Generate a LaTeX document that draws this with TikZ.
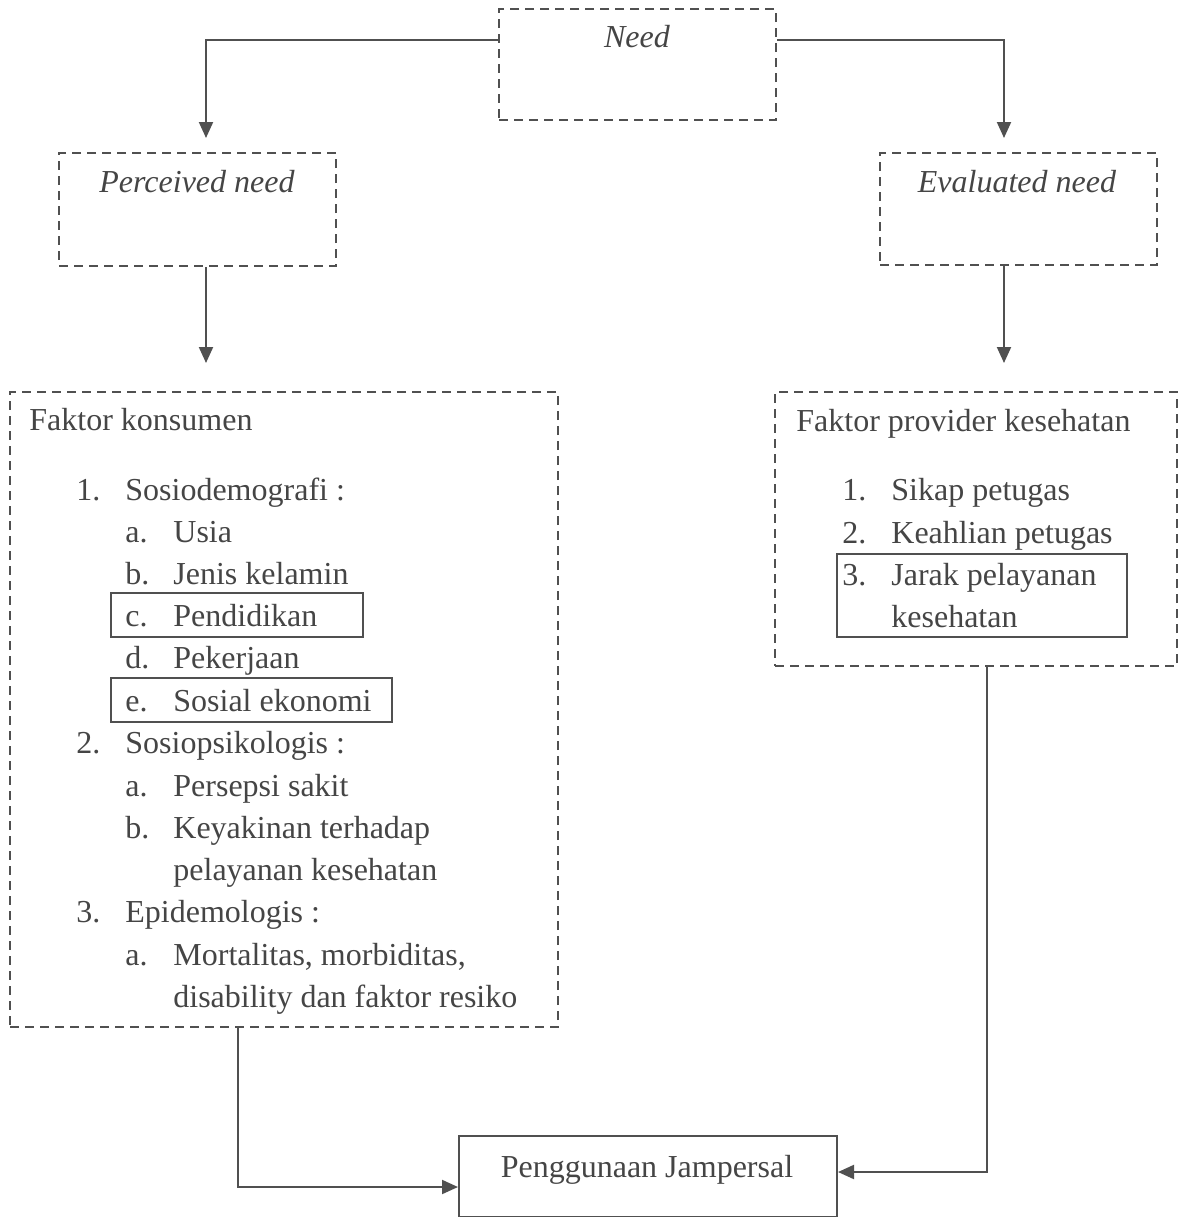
\documentclass[tikz,border=0pt]{standalone}
\usepackage{fontspec}
\setmainfont{Liberation Serif}
\usetikzlibrary{arrows.meta}
\definecolor{inkgrey}{HTML}{505050}
\definecolor{txtgrey}{HTML}{454545}

\begin{document}
\begin{tikzpicture}[x=0.5pt,y=-0.5pt,
  dbox/.style={draw=inkgrey, line width=1pt, dash pattern=on 4.5pt off 3pt, anchor=north west, inner sep=0pt},
  sbox/.style={draw=inkgrey, line width=1pt, anchor=north west, inner sep=0pt},
  txt/.style={text=txtgrey, anchor=base west, inner sep=0pt, font=\fontsize{16}{20}\selectfont},
  ttl/.style={text=txtgrey, anchor=base, inner sep=0pt, font=\fontsize{16}{20}\selectfont\itshape},
  arr/.style={draw=inkgrey, line width=1pt, -{Triangle[length=8pt,width=7pt]}}]
\useasboundingbox (0,0) rectangle (1179,1217);

% need boxes
\node[dbox, minimum width=138.5pt, minimum height=55.5pt] (need) at (498,8) {};
\node[dbox, minimum width=138.5pt, minimum height=56.5pt] (perc) at (58,152) {};
\node[dbox, minimum width=138.5pt, minimum height=56pt] (eval) at (879,152) {};
\node[ttl] (needT) at (637,47) {Need};
\node[ttl] (percT) at (197,192) {Perceived need};
\node[ttl] (evalT) at (1017,192) {Evaluated need};

% factor boxes
\node[dbox, minimum width=274pt, minimum height=317.5pt] (kons) at (9,391) {};
\node[dbox, minimum width=201pt, minimum height=137pt] (prov) at (774,391) {};
\node[sbox, minimum width=126pt, minimum height=22pt] (pendBox) at (110,592) {};
\node[sbox, minimum width=140.5pt, minimum height=22pt] (sosBox) at (110,677) {};
\node[sbox, minimum width=145pt, minimum height=41.5pt] (jarakBox) at (836,553) {};
\node[sbox, minimum width=189pt, minimum height=40.5pt] (peng) at (458,1135) {};
\node[txt, anchor=base] (pengT) at (647,1177) {Penggunaan Jampersal};

% faktor konsumen
\node[txt] (k0) at (29,430) {Faktor konsumen};
\node[txt] (k1n) at (76,500) {1.};
\node[txt] (k1) at (125,500) {Sosiodemografi :};
\node[txt] (k1an) at (125,542) {a.};
\node[txt] (k1a) at (173,542) {Usia};
\node[txt] (k1bn) at (125,584) {b.};
\node[txt] (k1b) at (173,584) {Jenis kelamin};
\node[txt] (k1cn) at (125,626) {c.};
\node[txt] (k1c) at (173,626) {Pendidikan};
\node[txt] (k1dn) at (125,668) {d.};
\node[txt] (k1d) at (173,668) {Pekerjaan};
\node[txt] (k1en) at (125,711) {e.};
\node[txt] (k1e) at (173,711) {Sosial ekonomi};
\node[txt] (k2n) at (76,753) {2.};
\node[txt] (k2) at (125,753) {Sosiopsikologis :};
\node[txt] (k2an) at (125,796) {a.};
\node[txt] (k2a) at (173,796) {Persepsi sakit};
\node[txt] (k2bn) at (125,838) {b.};
\node[txt] (k2b) at (173,838) {Keyakinan terhadap};
\node[txt] (k2b2) at (173,880) {pelayanan kesehatan};
\node[txt] (k3n) at (76,922) {3.};
\node[txt] (k3) at (125,922) {Epidemologis :};
\node[txt] (k3an) at (125,965) {a.};
\node[txt] (k3a) at (173,965) {Mortalitas, morbiditas,};
\node[txt] (k3a2) at (173,1007) {disability dan faktor resiko};

% faktor provider
\node[txt] (p0) at (796,431) {Faktor provider kesehatan};
\node[txt] (p1n) at (842,500) {1.};
\node[txt] (p1) at (891,500) {Sikap petugas};
\node[txt] (p2n) at (842,543) {2.};
\node[txt] (p2) at (891,543) {Keahlian petugas};
\node[txt] (p3n) at (842,585) {3.};
\node[txt] (p3) at (891,585) {Jarak pelayanan};
\node[txt] (p32) at (891,627) {kesehatan};

% connectors
\coordinate (percTip) at (206,138);
\coordinate (evalTip) at (1004,138);
\coordinate (konsTip) at (206,363);
\coordinate (provTip) at (1004,363);
\draw[arr] (need.west |- 0,40) -| (percTip);
\draw[arr] (need.east |- 0,40) -| (evalTip);
\draw[arr] (perc.south -| konsTip) -- (konsTip);
\draw[arr] (eval.south -| provTip) -- (provTip);
\draw[arr] (kons.south -| 238,0) |- (peng.west |- 0,1187);
\draw[arr] (prov.south -| 987,0) |- (peng.east |- 0,1172);
\end{tikzpicture}
\end{document}
